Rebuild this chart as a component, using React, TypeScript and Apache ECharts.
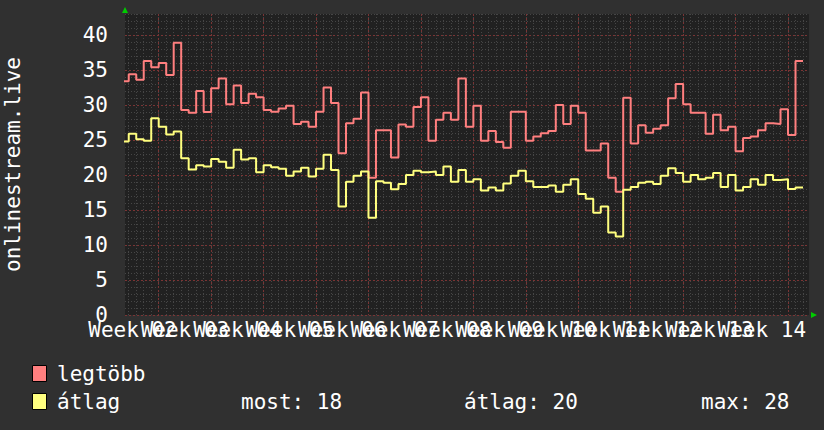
import React, { useEffect, useRef } from 'react';
import * as echarts from 'echarts';

// ---- data (one value per day; first day is partially visible) ----
const seriesNames = ['legtöbb', 'átlag'];
const firstDay = -1;
const maxValues = [
  33.4, 34.4, 33.6, 36.3, 35.4, 36.0, 34.3, 38.9, 29.3, 28.9, 32.0, 29.0, 32.4, 33.8, 30.1, 32.8, 30.3, 31.6, 31.1,
  29.3, 29.05, 29.5, 29.9, 27.3, 27.6, 26.9, 29.05, 32.5, 30.3, 23.1, 27.4, 28.05, 31.8, 19.6, 26.4, 26.4, 22.5,
  27.2, 26.9, 29.7, 31.1, 24.9, 27.9, 28.9, 27.9, 33.8, 26.9, 29.9, 24.9, 26.3, 24.7, 23.9, 29.05, 29.05, 24.9,
  25.5, 25.95, 26.3, 30.0, 27.3, 29.9, 28.9, 23.5, 23.5, 24.5, 19.6, 17.6, 31.05, 24.5, 27.1, 26.05, 26.6, 27.1,
  30.95, 33.0, 30.1, 28.9, 28.9, 25.9, 28.6, 26.4, 26.9, 23.4, 25.3, 25.5, 26.4, 27.4, 27.3, 29.4, 25.7, 36.3,
];
const avgValues = [
  24.8, 25.9, 25.1, 24.9, 28.1, 26.9, 25.8, 26.2, 22.4, 20.8, 21.4, 21.2, 22.3, 21.9, 21.05, 23.6, 22.2, 22.4, 20.4,
  21.4, 21.1, 20.9, 19.9, 20.5, 21.05, 19.8, 20.9, 22.9, 20.7, 15.5, 19.05, 19.9, 20.5, 13.9, 19.1, 18.9, 17.95,
  18.7, 20.0, 20.6, 20.4, 20.5, 20.0, 21.2, 19.05, 20.7, 19.05, 19.4, 17.8, 18.2, 17.8, 18.8, 19.9, 20.6, 19.1,
  18.3, 18.3, 18.5, 17.6, 18.6, 19.4, 17.3, 16.6, 14.6, 15.5, 11.8, 11.2, 17.9, 18.3, 18.9, 19.05, 18.7, 19.9,
  20.95, 20.3, 19.05, 20.0, 19.4, 19.6, 20.3, 18.3, 20.0, 17.8, 18.3, 19.4, 18.6, 20.0, 19.3, 19.4, 18.0, 18.2,
];
const weekLabels = [
  'Week 02', 'Week 03', 'Week 04', 'Week 05', 'Week 06', 'Week 07', 'Week 08',
  'Week 09', 'Week 10', 'Week 11', 'Week 12', 'Week 13', 'Week 14',
];
const weekLabelDays = [0.5, 7.5, 14.5, 21.5, 28.5, 35.5, 42.5, 49.5, 56.5, 63.5, 70.5, 77.5, 84.5];
const weekLineDays = [4, 11, 18, 25, 32, 39, 46, 53, 60, 67, 74, 81, 88];
const yMajorTicks = [0, 5, 10, 15, 20, 25, 30, 35, 40];
const yAxisName = 'onlinestream.live';
const statLabels = ['most', 'átlag', 'max'];

const xMin = -0.5;
const xMax = 90.8;
const yMin = 0;
const yMax = 43;

const FONT = "'DejaVu Sans Mono', monospace";
const RED = '#ff7f7f';
const YELLOW = '#ffff7f';
const MAJOR = '#7a3434';
const MINOR = '#464646';

function stepData(values: number[]) {
  const pts = values.map((v, i) => [firstDay + i, v]);
  pts.push([firstDay + values.length, values[values.length - 1]]);
  return pts;
}

const dayTicks: number[] = [];
for (let d = 0; d <= Math.floor(xMax); d++) dayTicks.push(d);
const unitTicks: number[] = [];
for (let v = yMin; v <= yMax; v++) if (v % 5 !== 0) unitTicks.push(v);

export default function App() {
  const ref = useRef<HTMLDivElement>(null);
  useEffect(() => {
    if (!ref.current) return;
    const chart = echarts.init(ref.current, null, { renderer: 'svg' });
    const last = avgValues[avgValues.length - 1];
    const avg = avgValues.reduce((a, b) => a + b, 0) / avgValues.length;
    const mx = Math.max(...avgValues);
    const stats = [Math.round(last), Math.round(avg), Math.round(mx)];
    const legendText = (text: string, x: number, y: number) => ({
      type: 'text',
      x,
      y,
      style: { text, fill: '#ffffff', font: `21px ${FONT}`, verticalAlign: 'middle', align: 'left' },
    });
    const hidden = { show: false };
    const weekFormatter = (v: number) => weekLabels[Math.round((v - weekLabelDays[0]) / 7)] ?? '';
    // labels overlap each other (as in the original), so split them over two axes
    const labelAxis = (values: number[]) => ({
      type: 'value', min: xMin, max: xMax, position: 'bottom', offset: 0,
      axisLine: hidden, axisTick: hidden, splitLine: hidden,
      axisLabel: {
        show: true, customValues: values, hideOverlap: false,
        showMinLabel: true, showMaxLabel: true,
        color: '#ffffff', fontSize: 21, fontFamily: FONT, margin: 4,
        formatter: weekFormatter,
      },
    });
    chart.setOption({
      animation: false,
      backgroundColor: '#303030',
      grid: {
        left: 125, top: 14, right: 15, bottom: 115,
        show: true, backgroundColor: '#212121', borderWidth: 0,
        outerBoundsMode: 'none',
      },
      xAxis: [
        {
          type: 'value', min: xMin, max: xMax, position: 'bottom',
          axisLine: hidden, axisLabel: hidden,
          axisTick: { show: false, customValues: dayTicks },
          splitLine: { show: true, lineStyle: { color: MINOR, type: [1, 2], width: 1 } },
        },
        {
          type: 'value', min: xMin, max: xMax, position: 'bottom',
          axisLine: hidden, axisLabel: hidden,
          axisTick: { show: false, customValues: weekLineDays },
          splitLine: { show: true, lineStyle: { color: MAJOR, type: [2, 2], width: 1 } },
        },
        labelAxis(weekLabelDays.filter((_, i) => i % 2 === 0)),
        labelAxis(weekLabelDays.filter((_, i) => i % 2 === 1)),
      ],
      yAxis: [
        {
          type: 'value', min: yMin, max: yMax, position: 'left',
          axisLine: hidden, axisLabel: hidden,
          axisTick: { show: false, customValues: unitTicks },
          splitLine: { show: true, lineStyle: { color: MINOR, type: [1, 2], width: 1 } },
        },
        {
          type: 'value', min: yMin, max: yMax, position: 'left',
          name: yAxisName, nameLocation: 'middle', nameRotate: 90, nameGap: 102,
          nameTextStyle: { color: '#ffffff', fontSize: 21, fontFamily: FONT },
          axisLine: hidden,
          axisTick: { show: false, customValues: yMajorTicks },
          axisLabel: {
            show: true, customValues: yMajorTicks, color: '#ffffff',
            fontSize: 21, fontFamily: FONT, margin: 17,
          },
          splitLine: { show: true, lineStyle: { color: MAJOR, type: [2, 2], width: 1 } },
        },
      ],
      series: [
        {
          name: seriesNames[0], type: 'line', step: 'end', xAxisIndex: 0, yAxisIndex: 1,
          data: stepData(maxValues), showSymbol: false, clip: true,
          lineStyle: { color: RED, width: 2 }, itemStyle: { color: RED },
        },
        {
          name: seriesNames[1], type: 'line', step: 'end', xAxisIndex: 0, yAxisIndex: 1,
          data: stepData(avgValues), showSymbol: false, clip: true,
          lineStyle: { color: YELLOW, width: 2 }, itemStyle: { color: YELLOW },
        },
      ],
      graphic: [
        { type: 'polygon', shape: { points: [[122, 13], [128, 13], [125, 7]] }, style: { fill: '#00cc00' } },
        { type: 'polygon', shape: { points: [[811, 312], [811, 318], [817, 315]] }, style: { fill: '#00cc00' } },
        { type: 'rect', shape: { x: 32.5, y: 365.5, width: 14, height: 16 }, style: { fill: RED, stroke: '#000000', lineWidth: 1 } },
        { type: 'rect', shape: { x: 32.5, y: 393.5, width: 14, height: 16 }, style: { fill: YELLOW, stroke: '#000000', lineWidth: 1 } },
        legendText(seriesNames[0], 57, 374),
        legendText(seriesNames[1], 57, 401.5),
        legendText(`${statLabels[0]}: ${stats[0]}`, 241, 401.5),
        legendText(`${statLabels[1]}: ${stats[1]}`, 464, 401.5),
        legendText(`${statLabels[2]}: ${stats[2]}`, 701, 401.5),
      ],
    });
    return () => chart.dispose();
  }, []);
  return (
    <div
      ref={ref}
      style={{ position: 'fixed', left: 0, top: 0, width: 824, height: 430 }}
    />
  );
}
